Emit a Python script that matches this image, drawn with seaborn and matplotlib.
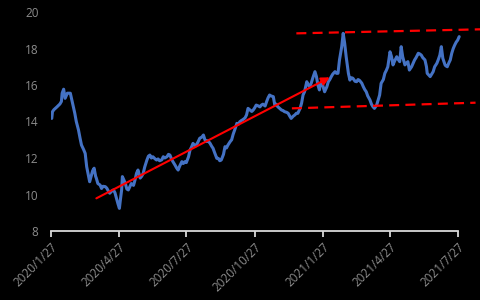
import numpy as np
import pandas as pd
import matplotlib
matplotlib.use("Agg")
import matplotlib.pyplot as plt
import matplotlib.dates as mdates
import seaborn as sns

# ---- data ----
start_date = "2020-01-27"
day_offsets = [1, 2, 4, 8, 12, 14, 15, 17, 19, 21, 22, 26, 28, 30, 32, 34, 37, 39, 41, 44,
               46, 48, 50, 52, 55, 56, 58, 60, 61, 63, 66, 68, 70, 73, 75, 77, 79, 82, 84, 86,
               88, 90, 92, 93, 95, 96, 98, 100, 102, 104, 106, 108, 111, 113, 115, 117, 120, 122, 124, 126,
               129, 131, 133, 135, 137, 140, 142, 144, 146, 149, 151, 153, 156, 158, 160, 162, 164, 167, 169, 171,
               173, 176, 178, 180, 182, 185, 187, 189, 191, 194, 196, 198, 200, 203, 205, 207, 209, 211, 214, 216,
               218, 220, 223, 225, 227, 229, 232, 234, 236, 238, 241, 243, 245, 247, 250, 252, 254, 256, 258, 261,
               263, 265, 267, 270, 272, 274, 276, 279, 281, 283, 285, 288, 290, 292, 294, 296, 299, 301, 303, 305,
               308, 310, 312, 314, 317, 319, 321, 323, 326, 328, 330, 332, 335, 337, 339, 341, 344, 346, 348, 350,
               352, 355, 357, 359, 361, 362, 364, 366, 368, 371, 373, 375, 377, 379, 382, 384, 386, 388, 391, 393,
               395, 397, 400, 402, 404, 406, 409, 411, 413, 415, 418, 420, 422, 424, 426, 429, 431, 433, 435, 438,
               440, 442, 444, 447, 449, 451, 453, 456, 458, 460, 462, 465, 467, 469, 471, 473, 476, 478, 480, 482,
               485, 487, 489, 491, 494, 496, 498, 500, 503, 505, 506, 510, 512, 514, 516, 519, 521, 523, 525, 527,
               530, 531, 533, 535, 537, 539, 541, 543, 545, 547, 549]
values = [14.17, 14.54, 14.65, 14.8, 14.96, 15.1, 15.55, 15.77, 15.27, 15.45, 15.55, 15.55, 15.18, 14.8, 14.45, 14.0, 13.53, 13.1, 12.71, 12.45,
          12.25, 11.52, 11.1, 10.7, 11.16, 11.3, 11.44, 11.0, 10.89, 10.6, 10.52, 10.33, 10.45, 10.43, 10.35, 10.2, 10.07, 10.2, 10.25, 10.1,
          9.79, 9.5, 9.24, 9.6, 10.25, 10.98, 10.8, 10.6, 10.3, 10.25, 10.43, 10.6, 10.5, 10.8, 11.16, 11.34, 10.9, 11.0, 11.16, 11.5,
          11.89, 12.1, 12.16, 12.0, 12.07, 11.95, 11.89, 11.95, 11.85, 11.9, 12.07, 12.0, 12.07, 12.2, 12.16, 11.95, 11.8, 11.6, 11.45, 11.34,
          11.55, 11.8, 11.7, 11.8, 11.75, 12.07, 12.44, 12.6, 12.8, 12.65, 12.75, 12.9, 13.08, 13.15, 13.26, 13.0, 12.9, 12.95, 12.8, 12.65,
          12.53, 12.3, 11.98, 11.98, 11.85, 11.89, 12.2, 12.62, 12.55, 12.71, 12.9, 13.0, 13.3, 13.53, 13.9, 13.85, 13.99, 14.05, 14.1, 14.2,
          14.36, 14.72, 14.65, 14.55, 14.63, 14.75, 14.9, 14.85, 14.8, 14.9, 14.95, 14.85, 15.09, 15.3, 15.45, 15.4, 15.36, 14.9, 14.95, 14.81,
          14.7, 14.63, 14.6, 14.54, 14.5, 14.45, 14.3, 14.17, 14.3, 14.36, 14.45, 14.45, 14.72, 15.0, 15.45, 15.63, 16.18, 16.0, 15.91, 16.1,
          16.37, 16.73, 16.46, 16.0, 15.73, 16.0, 16.18, 15.9, 15.63, 15.9, 16.18, 16.3, 16.46, 16.6, 16.73, 16.64, 16.64, 17.37, 18.1, 18.83,
          18.28, 17.55, 16.64, 16.27, 16.4, 16.37, 16.2, 16.18, 16.3, 16.25, 16.1, 15.91, 15.75, 15.63, 15.4, 15.18, 14.95, 14.81, 14.72, 14.9,
          15.18, 15.45, 16.09, 16.3, 16.64, 16.8, 17.0, 17.82, 17.55, 17.1, 17.3, 17.55, 17.4, 17.28, 18.1, 17.55, 17.1, 17.2, 17.28, 16.82,
          17.0, 17.19, 17.37, 17.5, 17.74, 17.7, 17.64, 17.5, 17.37, 17.0, 16.64, 16.46, 16.6, 16.73, 17.0, 17.19, 17.4, 17.64, 18.1, 17.46,
          17.1, 17.05, 17.0, 17.2, 17.37, 17.74, 18.0, 18.19, 18.35, 18.46, 18.65]

tick_labels = ["2020/1/27", "2020/4/27", "2020/7/27", "2020/10/27",
               "2021/1/27", "2021/4/27", "2021/7/27"]
yticks = [8, 10, 12, 14, 16, 18, 20]

# trend arrow (day offset, value)
arrow_days = [61, 375]
arrow_vals = [9.79, 16.42]
# channel lines (day offset, value)
upper_days = [330, 577]
upper_vals = [18.83, 19.05]
lower_days = [324, 571]
lower_vals = [14.72, 15.03]

# ---- build ----
t0 = pd.Timestamp(start_date)
dates = t0 + pd.to_timedelta(day_offsets, unit="D")
df = pd.DataFrame({"date": dates, "value": values})


def parse(s):
    y, m, d = s.split("/")
    return pd.Timestamp(int(y), int(m), int(d))


tick_dates = [parse(s) for s in tick_labels]
tick_nums = [mdates.date2num(t) for t in tick_dates]

sns.set_theme(style="dark")
plt.rcParams["font.family"] = ["Open Sans", "DejaVu Sans"]

fig = plt.figure(figsize=(4.8, 3.0), dpi=100, facecolor="black")
ax = fig.add_axes([51 / 480, 1 - 231 / 300, 1 - 51 / 480, (231 - 12) / 300])
ax.set_facecolor("black")

sns.lineplot(data=df, x="date", y="value", ax=ax, color="#4472C4", linewidth=2.2)

ax.annotate("", xy=(mdates.date2num(t0 + pd.Timedelta(days=arrow_days[1])), arrow_vals[1]),
            xytext=(mdates.date2num(t0 + pd.Timedelta(days=arrow_days[0])), arrow_vals[0]),
            arrowprops=dict(arrowstyle="-|>", color="#FF0000", lw=1.5,
                            mutation_scale=12, shrinkA=0, shrinkB=0))

for dd, vv in [(upper_days, upper_vals), (lower_days, lower_vals)]:
    ax.plot([mdates.date2num(t0 + pd.Timedelta(days=d)) for d in dd], vv, color="#FF0000",
            lw=1.6, linestyle=(0, (4.5, 2.8)), clip_on=False)

ax.set_xlim(mdates.date2num(t0), mdates.date2num(t0 + pd.Timedelta(days=577)))
ax.set_ylim(8, 20)
ax.set_yticks(yticks)
ax.set_yticklabels([str(v) for v in yticks])
ax.set_xticks(tick_nums)
ax.set_xticklabels(tick_labels, rotation=45, ha="right", rotation_mode="anchor")
ax.set_xlabel("")
ax.set_ylabel("")
ax.grid(False)

for s in ["top", "right", "left"]:
    ax.spines[s].set_visible(False)
ax.spines["bottom"].set_visible(True)
ax.spines["bottom"].set_color("#D9D9D9")
ax.spines["bottom"].set_linewidth(1.3)
ax.spines["bottom"].set_bounds(tick_nums[0], tick_nums[-1])

ax.tick_params(axis="x", colors="#D9D9D9", direction="out", length=4, width=1.3,
               labelcolor="#8C8C8C", labelsize=8.5, pad=3, bottom=True)
ax.tick_params(axis="y", length=0, labelcolor="#8C8C8C", labelsize=8.5, pad=9)

fig.savefig("out.png", dpi=100, facecolor="black")
